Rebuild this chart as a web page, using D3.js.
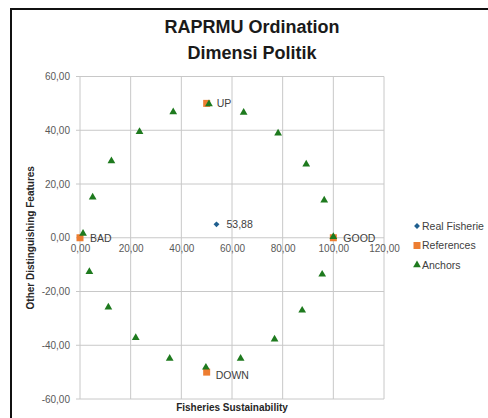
<!DOCTYPE html>
<html>
<head>
<meta charset="utf-8">
<script src="https://cdn.jsdelivr.net/npm/d3@7"></script>
<style>
  body { margin: 0; background: #fff; }
  svg { display: block; font-family: "Liberation Sans", Arial, sans-serif; }
  .tick text { fill: #595959; font-size: 10px; }
</style>
</head>
<body>
<svg width="488" height="418"></svg>
<script>
// data
const realFisheries = [{x: 53.88, y: 5.0, label: '53,88'}];
const references = [
  {x: 0, y: 0, label: 'BAD'},
  {x: 100, y: 0, label: 'GOOD'},
  {x: 50, y: 50, label: 'UP'},
  {x: 50, y: -50, label: 'DOWN'}
];
const anchorX = [1.2, 5.0, 12.4, 23.5, 36.8, 50.9, 64.6, 78.2, 89.3, 96.4, 100,
                 95.6, 87.7, 76.8, 63.4, 49.7, 35.4, 22.0, 11.2, 3.7];
const anchorY = [1.2, 14.7, 28.2, 39.1, 46.4, 49.4, 46.2, 38.5, 27.0, 13.6, 0,
                 -14.0, -27.4, -38.1, -45.3, -48.6, -45.3, -37.6, -26.2, -13.0];
const xTicks = [0, 20, 40, 60, 80, 100, 120];
const yTicks = [-60, -40, -20, 0, 20, 40, 60];
const legendNames = ['Real Fisherie', 'References', 'Anchors'];

const anchors = anchorX.map((x, i) => ({x: x, y: anchorY[i]}));

const svg = d3.select('svg');

const locale = d3.formatLocale({decimal: ',', thousands: '.', grouping: [3], currency: ['', ''], minus: '-'});
const fmt = locale.format('.2f');

const xScale = d3.scaleLinear().domain([0, 120]).range([80, 384]);
const yScale = d3.scaleLinear().domain([-60, 60]).range([399, 76.5]);

// frame
svg.append('rect')
    .attr('x', 11).attr('y', 9)
    .attr('width', 490).attr('height', 420)
    .attr('fill', 'none')
    .attr('stroke', '#111')
    .attr('stroke-width', 2);

// title
svg.append('text')
    .attr('x', 252).attr('y', 33)
    .attr('text-anchor', 'middle')
    .attr('font-size', 18).attr('font-weight', 'bold')
    .attr('fill', '#1a1a1a')
    .text('RAPRMU Ordination');
svg.append('text')
    .attr('x', 252).attr('y', 58.5)
    .attr('text-anchor', 'middle')
    .attr('font-size', 18).attr('font-weight', 'bold')
    .attr('fill', '#1a1a1a')
    .text('Dimensi Politik');

// grid
const grid = svg.append('g');
grid.selectAll('.vg').data(xTicks).enter().append('line')
    .attr('x1', d => xScale(d)).attr('x2', d => xScale(d))
    .attr('y1', yScale(60)).attr('y2', yScale(-60))
    .attr('stroke', '#c8c8c8');
grid.selectAll('.hg').data(yTicks).enter().append('line')
    .attr('x1', xScale(0) - 4).attr('x2', xScale(120))
    .attr('y1', d => yScale(d)).attr('y2', d => yScale(d))
    .attr('stroke', '#c8c8c8');

// y axis labels
const yAxisG = svg.append('g')
    .attr('transform', `translate(${xScale(0) - 4},0)`)
    .call(d3.axisLeft(yScale).tickValues(yTicks).tickFormat(fmt).tickSize(0).tickPadding(6));
yAxisG.select('.domain').remove();

// x axis labels sit under the zero line
const xAxisG = svg.append('g')
    .attr('transform', `translate(0,${yScale(0)})`)
    .call(d3.axisBottom(xScale).tickValues(xTicks).tickFormat(fmt).tickSize(0).tickPadding(7));
xAxisG.select('.domain').remove();

// axis titles
svg.append('text')
    .attr('x', xScale(60)).attr('y', 411)
    .attr('text-anchor', 'middle')
    .attr('font-size', 10).attr('font-weight', 'bold')
    .attr('fill', '#262626')
    .text('Fisheries Sustainability');
svg.append('text')
    .attr('transform', `translate(34,${yScale(0)}) rotate(-90)`)
    .attr('text-anchor', 'middle')
    .attr('font-size', 10).attr('font-weight', 'bold')
    .attr('fill', '#262626')
    .text('Other Distinguishing Features');

const colors = {real: '#1f5f8f', ref: '#ed7d31', anchor: '#1e7a1e'};
const sqSym = d3.symbol(d3.symbolSquare, 49);
const triSym = d3.symbol(d3.symbolTriangle, 26);
const diaSym = d3.symbol(d3.symbolDiamond2, 22);

// references
svg.append('g').selectAll('path').data(references).enter().append('path')
    .attr('d', sqSym)
    .attr('transform', d => `translate(${xScale(d.x)},${yScale(d.y)})`)
    .attr('fill', colors.ref);

// anchors
svg.append('g').selectAll('path').data(anchors).enter().append('path')
    .attr('d', triSym)
    .attr('transform', d => `translate(${xScale(d.x)},${yScale(d.y) - 1})`)
    .attr('fill', colors.anchor);

// real fisheries
svg.append('g').selectAll('path').data(realFisheries).enter().append('path')
    .attr('d', diaSym)
    .attr('transform', d => `translate(${xScale(d.x)},${yScale(d.y)})`)
    .attr('fill', colors.real);

// point labels
const labels = references.concat(realFisheries);
svg.append('g').selectAll('text').data(labels).enter().append('text')
    .attr('x', d => xScale(d.x) + (d.label === 'DOWN' ? 9 : 10))
    .attr('y', d => yScale(d.y) + (d.label === 'DOWN' ? 7 : 4))
    .attr('font-size', 10.5)
    .attr('fill', '#404040')
    .text(d => d.label);

// legend
const legend = svg.append('g').attr('transform', 'translate(417,226)');
const legendSyms = [diaSym, sqSym, triSym];
const legendCols = [colors.real, colors.ref, colors.anchor];
legendNames.forEach((name, i) => {
    const row = legend.append('g').attr('transform', `translate(0,${i * 19.5})`);
    row.append('path')
        .attr('d', legendSyms[i])
        .attr('fill', legendCols[i]);
    row.append('text')
        .attr('x', 5).attr('y', 3.5)
        .attr('font-size', 10.5)
        .attr('fill', '#404040')
        .text(name);
});
</script>
</body>
</html>
